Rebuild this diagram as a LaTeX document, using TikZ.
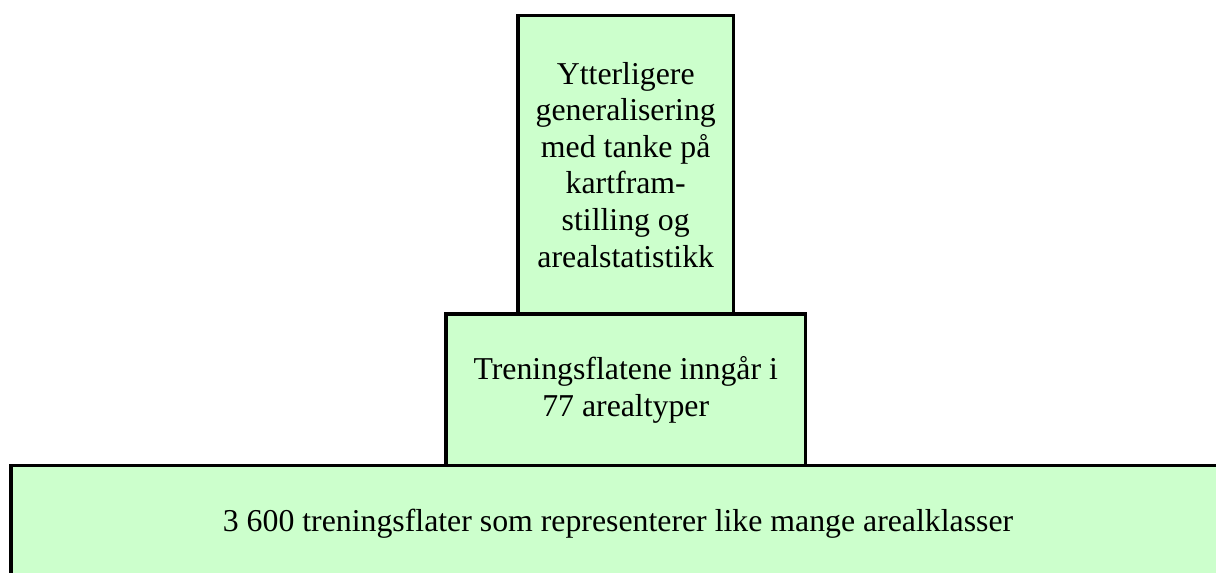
\documentclass[tikz,border=0pt]{standalone}
\usepackage{fontspec}
\setmainfont{Liberation Serif}
\definecolor{boxgreen}{HTML}{CCFFCC}
\tikzset{
  layerbox/.style={draw=black, fill=boxgreen, line width=1.75pt, inner sep=0pt, align=center,
    font=\fontsize{15.9}{18.3}\selectfont},
  layertext/.style={inner sep=0pt, align=center, font=\fontsize{15.9}{18.3}\selectfont}
}
\begin{document}
\begin{tikzpicture}[x=0.5pt,y=-0.5pt]
\useasboundingbox (0,0) rectangle (1216,573);
\clip (0,0) rectangle (1216,573);
\node[layerbox, minimum width=107.75pt, minimum height=149.25pt] (top) at (625.75,164.75)
  {Ytterligere\\generalisering\\med tanke på\\kartfram-\\stilling og\\arealstatistikk};
\node[layerbox, minimum width=179.75pt, minimum height=75.75pt] (mid) at (625.75,389.75)
  {Treningsflatene inngår i\\77 arealtyper};
\path[draw=black, fill=boxgreen, line width=1.75pt] (1260,465.5) -- (11,465.5) -- (11,620) -- (1260,620) -- cycle;
\coordinate (baseleft) at (11,465.5);
\node[layertext] (base) at (618,524) {3 600 treningsflater som representerer like mange arealklasser};
\end{tikzpicture}
\end{document}
